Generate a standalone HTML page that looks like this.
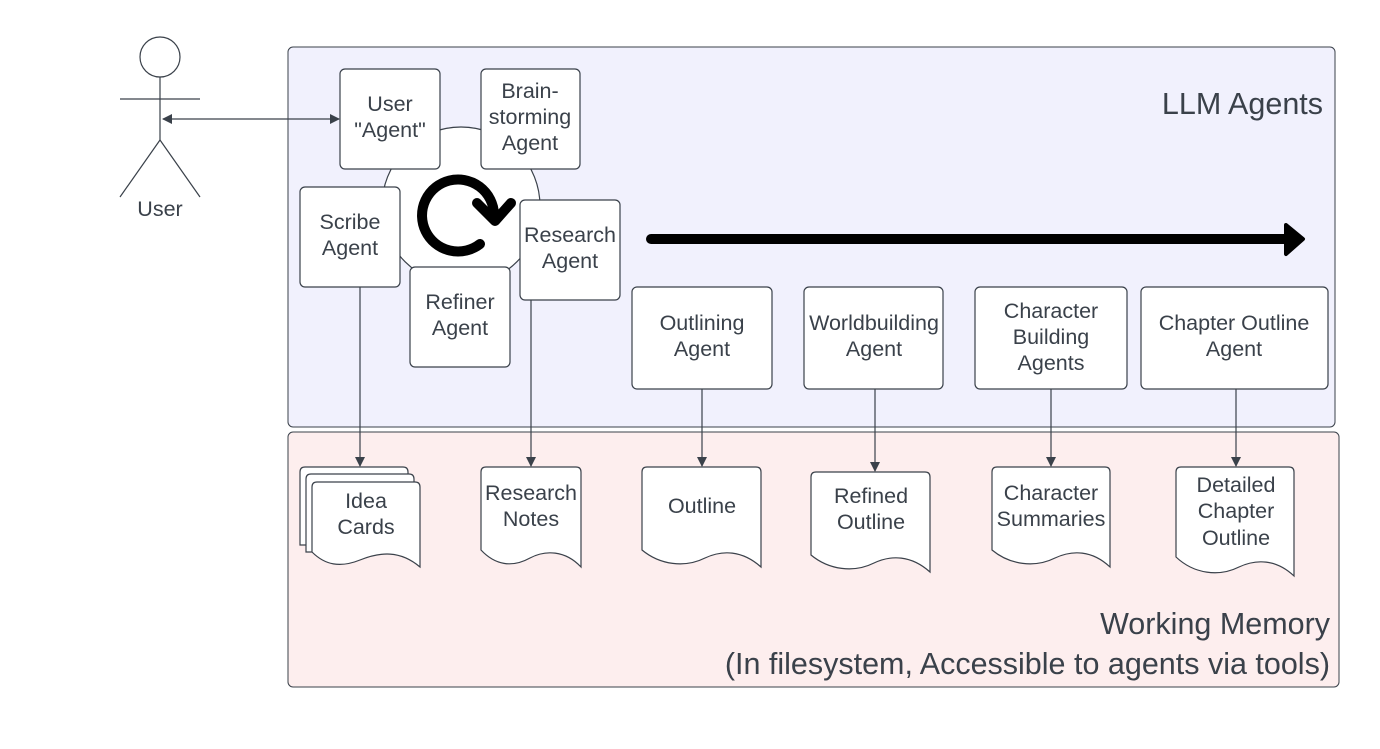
<!DOCTYPE html>
<html><head><meta charset="utf-8"><style>
html,body{margin:0;padding:0;background:#fff}
svg{display:block}
text{font-family:"Liberation Sans",sans-serif;fill:#3a414a;font-size:21.5px;text-anchor:middle}
.b{fill:#fff;stroke:#3a414a;stroke-width:1.2}
.l{stroke:#3a414a;stroke-width:1.2;fill:none}
</style></head><body>
<svg width="1380" height="749" viewBox="0 0 1380 749" xmlns="http://www.w3.org/2000/svg">
<defs>
<marker id="ah" markerWidth="10" markerHeight="10" refX="9" refY="5" orient="auto" markerUnits="userSpaceOnUse"><path d="M0,0 L10,5 L0,10 Z" fill="#3a414a"/></marker>
<marker id="ah2" markerWidth="10" markerHeight="10" refX="1" refY="5" orient="auto" markerUnits="userSpaceOnUse"><path d="M10,0 L0,5 L10,10 Z" fill="#3a414a"/></marker>
</defs>
<rect x="288" y="47" width="1047" height="380" rx="5" fill="#f1f1fd" stroke="#3a414a" stroke-width="1"/>
<rect x="288" y="432" width="1051" height="255" rx="5" fill="#fdeeee" stroke="#3a414a" stroke-width="1"/>
<text x="1323" y="114" style="font-size:30.5px;text-anchor:end">LLM Agents</text>
<text x="1330" y="634" style="font-size:30.5px;text-anchor:end">Working Memory</text>
<text x="1330" y="674" style="font-size:30.5px;text-anchor:end">(In filesystem, Accessible to agents via tools)</text>

<circle cx="160" cy="57" r="20" class="b"/>
<line x1="160" y1="77" x2="160" y2="140" class="l"/>
<line x1="120" y1="99" x2="200" y2="99" class="l"/>
<line x1="160" y1="140" x2="120" y2="197" class="l"/>
<line x1="160" y1="140" x2="200" y2="197" class="l"/>
<text x="160" y="216">User</text>
<line x1="163" y1="119" x2="339" y2="119" class="l" marker-start="url(#ah2)" marker-end="url(#ah)"/>

<circle cx="461" cy="206" r="79" class="b"/>
<line x1="360" y1="287" x2="360" y2="466" class="l" marker-end="url(#ah)"/>
<line x1="531" y1="300" x2="531" y2="466" class="l" marker-end="url(#ah)"/>
<line x1="702" y1="389" x2="702" y2="466" class="l" marker-end="url(#ah)"/>
<line x1="875" y1="389" x2="875" y2="471" class="l" marker-end="url(#ah)"/>
<line x1="1051" y1="389" x2="1051" y2="466" class="l" marker-end="url(#ah)"/>
<line x1="1236" y1="389" x2="1236" y2="466" class="l" marker-end="url(#ah)"/>

<rect x="340" y="69" width="100" height="100" rx="5" class="b"/>
<text x="390" y="111">User</text><text x="390" y="137">"Agent"</text>
<rect x="481" y="69" width="99" height="100" rx="5" class="b"/>
<text x="530" y="98">Brain-</text><text x="530" y="124">storming</text><text x="530" y="150">Agent</text>
<rect x="300" y="187" width="100" height="100" rx="5" class="b"/>
<text x="350" y="229">Scribe</text><text x="350" y="255">Agent</text>
<rect x="410" y="267" width="100" height="100" rx="5" class="b"/>
<text x="460" y="309">Refiner</text><text x="460" y="335">Agent</text>
<rect x="520" y="200" width="100" height="100" rx="5" class="b"/>
<text x="570" y="242">Research</text><text x="570" y="268">Agent</text>

<path d="M480,244 A36,36 0 1 1 494,214" fill="none" stroke="#000" stroke-width="10" stroke-linecap="round"/>
<path d="M477,203 L495,221 L511,203" fill="none" stroke="#000" stroke-width="10" stroke-linecap="round" stroke-linejoin="round"/>

<line x1="651" y1="239" x2="1288" y2="239" stroke="#000" stroke-width="10" stroke-linecap="round"/>
<path d="M1286,225 L1303,239 L1286,254 Z" fill="#000" stroke="#000" stroke-width="4" stroke-linejoin="round"/>

<rect x="632" y="287" width="140" height="102" rx="5" class="b"/>
<text x="702" y="330">Outlining</text><text x="702" y="356">Agent</text>
<rect x="804" y="287" width="139" height="102" rx="5" class="b"/>
<text x="874" y="330">Worldbuilding</text><text x="874" y="356">Agent</text>
<rect x="975" y="287" width="152" height="102" rx="5" class="b"/>
<text x="1051" y="318">Character</text><text x="1051" y="344">Building</text><text x="1051" y="370">Agents</text>
<rect x="1141" y="287" width="187" height="102" rx="5" class="b"/>
<text x="1234" y="330">Chapter Outline</text><text x="1234" y="356">Agent</text>

<path class="b" d="M305,467 H403 Q408,467 408,472 V545 L300,545 V472 Q300,467 305,467 Z"/>
<path class="b" d="M311,474 H409 Q414,474 414,479 V552 L306,552 V479 Q306,474 311,474 Z"/>
<path class="b" d="M317,482 H415 Q420,482 420,487 V567 C400,550 380,552 360,560 C340,568 325,565 312,552 V487 Q312,482 317,482 Z"/>
<text x="366" y="508">Idea</text><text x="366" y="534">Cards</text>

<path class="b" d="M486,467 H576 Q581,467 581,472 V567 C565,550 545,550 530,558 C512,568 495,565 481,550 V472 Q481,467 486,467 Z"/>
<text x="531" y="500">Research</text><text x="531" y="526">Notes</text>

<path class="b" d="M647,467 H756 Q761,467 761,472 V567 C742,550 722,550 705,558 C685,568 660,565 642,550 V472 Q642,467 647,467 Z"/>
<text x="702" y="513">Outline</text>

<path class="b" d="M816,472 H925 Q930,472 930,477 V572 C911,555 891,555 874,563 C854,573 829,570 811,555 V477 Q811,472 816,472 Z"/>
<text x="871" y="503">Refined</text><text x="871" y="529">Outline</text>

<path class="b" d="M997,467 H1105 Q1110,467 1110,472 V567 C1092,550 1072,550 1055,558 C1035,568 1010,565 992,550 V472 Q992,467 997,467 Z"/>
<text x="1051" y="500">Character</text><text x="1051" y="526">Summaries</text>

<path class="b" d="M1181,467 H1289 Q1294,467 1294,472 V576 C1276,559 1256,559 1239,567 C1219,577 1194,574 1176,557 V472 Q1176,467 1181,467 Z"/>
<text x="1236" y="492">Detailed</text><text x="1236" y="518">Chapter</text><text x="1236" y="545">Outline</text>
</svg>
</body></html>
